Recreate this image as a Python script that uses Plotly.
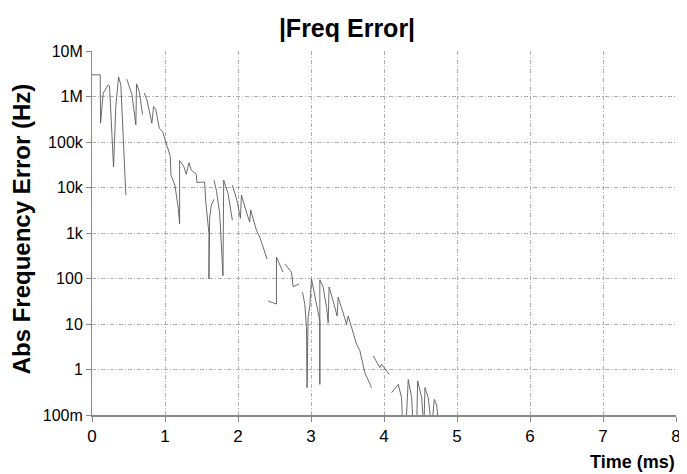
import plotly.graph_objects as go

time_ms = [0, 0.112, 0.117, 0.154, 0.222, 0.240, 0.295, 0.326, 0.364, 0.395, 0.464, None,
           0.477, 0.546, 0.601, 0.610, 0.647, 0.693, None,
           0.716, 0.752, 0.820, 0.844, 0.875, 0.922, 0.967, 1.012, 1.073, 1.081, 1.136, 1.182,
           1.200, 1.200, 1.259, 1.292, 1.328, 1.361, 1.429, 1.438, 1.543, 1.557, 1.602, 1.602,
           1.612, 1.635, 1.671, None,
           1.671, 1.704, 1.749, 1.794, 1.804, 1.863, 1.923, None,
           1.923, 1.986, 2.033, 2.047, 2.115, 2.160, 2.174, 2.252, 2.298, 2.398, None,
           2.413, 2.527, 2.527, 2.595, 2.617, None,
           2.641, 2.733, 2.755, 2.837, None,
           2.883, 2.915, 2.938, 2.946, 2.960, 2.984, 3.007, 3.052, 3.075, 3.121, 3.121, 3.121,
           3.166, 3.213, 3.235, 3.248, 3.303, 3.358, 3.372, 3.440, 3.487, 3.509, 3.624, 3.669,
           3.715, 3.738, 3.830, None,
           3.852, 3.944, 3.967, 4.071, None,
           4.104, 4.195, 4.241, 4.255, 4.300, 4.332, 4.379, 4.400, 4.447, 4.461, 4.516, 4.547,
           4.561, 4.606, 4.653, 4.689, 4.722, 4.753]

err_hz = [3.0e6, 3.0e6, 2.6e5, 1.19e6, 1.8e6, 1.7e6, 2.85e4, 6.0e5, 2.7e6, 1.8e6, 6.8e3, None,
          2.4e6, 1.12e6, 2.4e5, 1.9e6, 1.3e6, 4.0e5, None,
          1.19e6, 8.5e5, 2.6e5, 6.0e5, 5.1e5, 2.0e5, 1.7e5, 1.0e5, 4.8e4, 1.86e4, 1.12e4, 3.5e3,
          1.6e3, 3.9e4, 2.85e4, 1.95e4, 3.5e4, 2.4e4, 1.95e4, 1.29e4, 1.32e4, 5.2e3, 960, 98,
          2.2e3, 4.1e3, 5.5e3, None,
          1.45e4, 8.7e3, 2.7e3, 115, 1.45e4, 7.4e3, 1.9e3, None,
          1.12e4, 5.2e3, 2.1e3, 6.8e3, 2.9e3, 1.74e3, 3.2e3, 1.15e3, 810, 270, None,
          32, 27.5, 295, 163, 138, None,
          209, 138, 66, 76, None,
          50, 27.5, 8.3, 0.40, 13.8, 25, 98, 42, 27.5, 11.7, 0.47, 93,
          65, 23, 10.7, 65, 32, 15, 39, 17.8, 10, 15, 3.6, 2.6,
          1.3, 0.85, 0.40, None,
          2.0, 1.1, 1.3, 0.78, None,
          0.31, 0.47, 0.24, 0.05, 0.05, 0.60, 0.24, 0.05, 0.05, 0.56, 0.24, 0.05,
          0.40, 0.24, 0.05, 0.22, 0.166, 0.05]

y_tick_vals = [0.1, 1, 10, 100, 1e3, 1e4, 1e5, 1e6, 1e7]
y_tick_text = ["100m", "1", "10", "100", "1k", "10k", "100k", "1M", "10M"]
x_tick_vals = [0, 1, 2, 3, 4, 5, 6, 7, 8]

FONT = "Liberation Sans, Arial, sans-serif"

# page body has an 8px default margin; figure is laid out to compensate
W, H = 679, 466
L, T, R, B = 84, 43, 11, 59

fig = go.Figure()
fig.add_trace(go.Scatter(x=time_ms, y=err_hz, mode="lines",
                         line=dict(color="#5a5a5a", width=0.9),
                         connectgaps=False, showlegend=False))

grid = dict(showgrid=True, gridcolor="#b0b0b0", gridwidth=1, griddash="4px,2px,1px,2px")
pw = W - L - R

fig.update_layout(
    width=W, height=H,
    paper_bgcolor="white", plot_bgcolor="white",
    margin=dict(l=L, r=R, t=T, b=B, autoexpand=False),
    title=dict(text="<b>|Freq Error|</b>", x=(347 - 8) / W, xref="container", xanchor="center",
               y=1 - (28 - 8) / H, yref="container", yanchor="middle",
               font=dict(family=FONT, size=25, color="#000000")),
    xaxis=dict(range=[0, 8], tickvals=x_tick_vals, ticks="outside", ticklen=5,
               tickcolor="#888888", showline=True, linecolor="#8a8a8a", linewidth=2,
               zeroline=False, automargin=False,
               tickfont=dict(family=FONT, size=17, color="#000000"), **grid),
    yaxis=dict(type="log", range=[-1, 7], tickvals=y_tick_vals, ticktext=y_tick_text,
               ticks="outside", ticklen=5, tickcolor="#888888", showline=True,
               linecolor="#8a8a8a", linewidth=1, zeroline=False, automargin=False,
               tickfont=dict(family=FONT, size=16, color="#000000"), **grid),
    annotations=[
        dict(text="<b>Time (ms)</b>", xref="paper", yref="paper", x=1.002, y=0,
             xanchor="right", yanchor="middle", yshift=-47, showarrow=False,
             font=dict(family=FONT, size=18, color="#000000")),
        dict(text="<b>Abs Frequency Error (Hz)</b>", xref="paper", yref="paper",
             x=(21 - 8 - L) / pw, y=0.51, xanchor="center", yanchor="middle",
             textangle=-90, showarrow=False,
             font=dict(family=FONT, size=24, color="#000000")),
    ],
)

fig.write_html("out.html")
